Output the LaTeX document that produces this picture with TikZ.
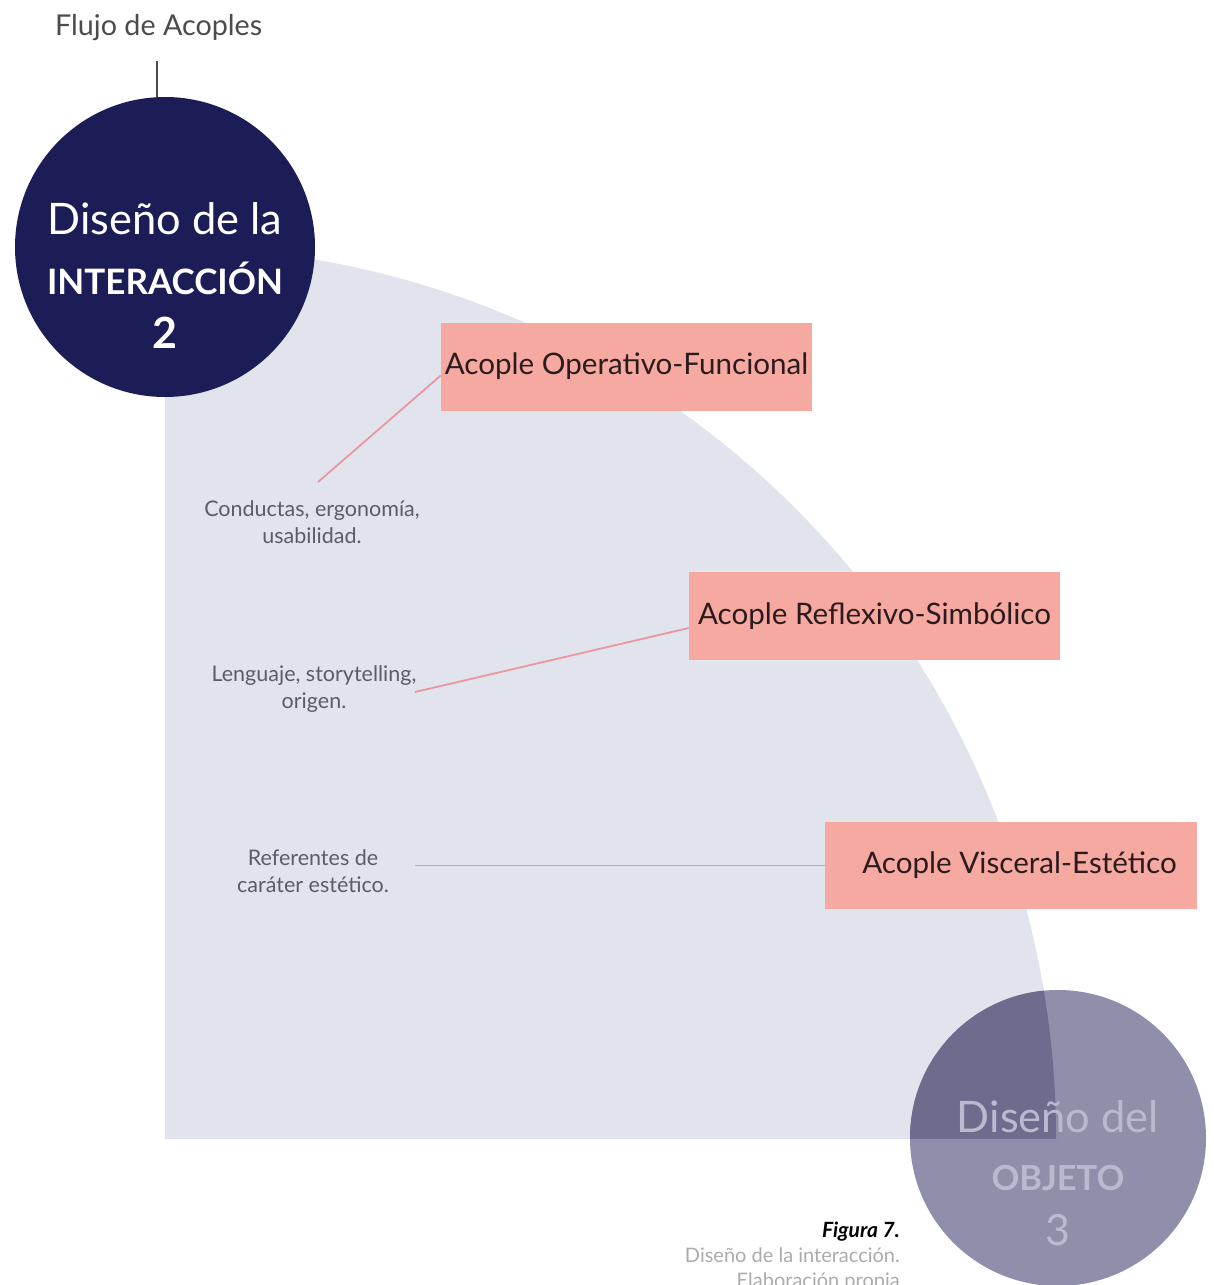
\documentclass[tikz,border=0pt]{standalone}
\usepackage{fontspec}
\setmainfont{Lato}
\definecolor{discgrey}{HTML}{E1E4EC}
\definecolor{navy}{HTML}{1C1D56}
\definecolor{objcol}{HTML}{8F8FAC}
\definecolor{objdark}{HTML}{6E6B8C}
\definecolor{objtext}{HTML}{B9B9D0}
\definecolor{boxfill}{HTML}{F5A9A0}
\definecolor{linepink}{HTML}{EB96A0}
\definecolor{labeltext}{HTML}{5A5D63}
\definecolor{flowtext}{HTML}{4B4B4B}
\definecolor{captext}{HTML}{ABABAB}
\definecolor{boxtext}{HTML}{2B1B1F}
\newcommand{\fs}[1]{\fontsize{#1}{1.2\dimexpr#1pt\relax}\selectfont}
\begin{document}
\begin{tikzpicture}[x=1pt,y=-1pt,
  acople/.style={rectangle, fill=boxfill, minimum width=371pt, minimum height=88pt,
    inner sep=0pt, text=boxtext, font=\fs{29.6}},
  nota/.style={align=center, text=labeltext, font=\fontsize{21.5}{26.5}\selectfont, inner sep=0pt},
  enlace/.style={draw=linepink, line width=1.8pt},
  bigtxt/.style={anchor=base, inner sep=0pt}]
\useasboundingbox (0,0) rectangle (1214,1285);

% quarter disc behind the diagram
\begin{scope}
  \clip (165,240) rectangle (1060,1138);
  \fill[discgrey] (165,1138) circle[radius=891pt];
\end{scope}

% object circle and its overlap with the quarter disc
\node[circle, fill=objcol, minimum size=296pt, inner sep=0pt] (obj) at (1058,1138) {};
\begin{scope}
  \clip (165,1138) circle[radius=891pt];
  \clip (165,240) rectangle (1214,1138);
  \fill[objdark] (1058,1138) circle[radius=148pt];
\end{scope}

% interaction circle
\node[circle, fill=navy, minimum size=300pt, inner sep=0pt] (inter) at (165,247) {};

% title and its stem
\node[anchor=base west, inner sep=0pt, text=flowtext, font=\fs{28.7}] (flow) at (55,35) {Flujo de Acoples};
\coordinate (stem) at (157,61);
\draw[flowtext, line width=1.6pt] (stem) -- (stem |- inter.north);

% texts inside the interaction circle
\node[bigtxt, text=white, font=\fs{43.4}] (t1) at (165,234) {Diseño de la};
\node[bigtxt, text=white, font=\bfseries\fs{35}] (t2) at (165,294) {INTERACCIÓN};
\node[bigtxt, text=white, font=\bfseries\fs{43}] (t3) at (165,348) {2};

% texts inside the object circle
\node[bigtxt, text=objtext, font=\fs{43.4}] (o1) at (1058,1132) {Diseño del};
\node[bigtxt, text=objtext, font=\bfseries\fs{34.5}] (o2) at (1058,1190) {OBJETO};
\node[bigtxt, text=objtext, font=\fs{43}] (o3) at (1058,1245) {3};

% coupling boxes
\node[acople] (b1) at (626.5,366.5) {Acople Operativo-Funcional};
\node[acople] (b2) at (874.5,616) {Acople Reflexivo-Simbólico};
\node[acople, minimum width=372pt, minimum height=87pt] (b3) at (1011,865.5) {\hspace*{17pt}Acople Visceral-Estético};

% notes
\node[nota] (n1) at (312,522) {Conductas, ergonomía,\\usabilidad.};
\node[nota] (n2) at (314,689) {Lenguaje, storytelling,\\origen.};
\node[nota] (n3) at (313,871) {Referentes de\\caráter estético.};

% connectors
\coordinate (c1) at (318,482);
\coordinate (c2) at (415,692);
\coordinate (c3) at (415,865.5);
\draw[enlace] (c1) -- ([yshift=-9pt]b1.west);
\draw[enlace] (c2) -- ([yshift=-12pt]b2.west);
\draw[enlace] (c3) -- (b3.west);

% caption
\node[anchor=base east, inner sep=0pt, font=\bfseries\itshape\fs{21}] (cap1) at (900,1237) {Figura 7.};
\node[anchor=base east, inner sep=0pt, text=captext, font=\fs{20}] (cap2) at (900,1262) {Diseño de la interacción.};
\node[anchor=base east, inner sep=0pt, text=captext, font=\fs{20}] (cap3) at (900,1287) {Elaboración propia};
\end{tikzpicture}
\end{document}
